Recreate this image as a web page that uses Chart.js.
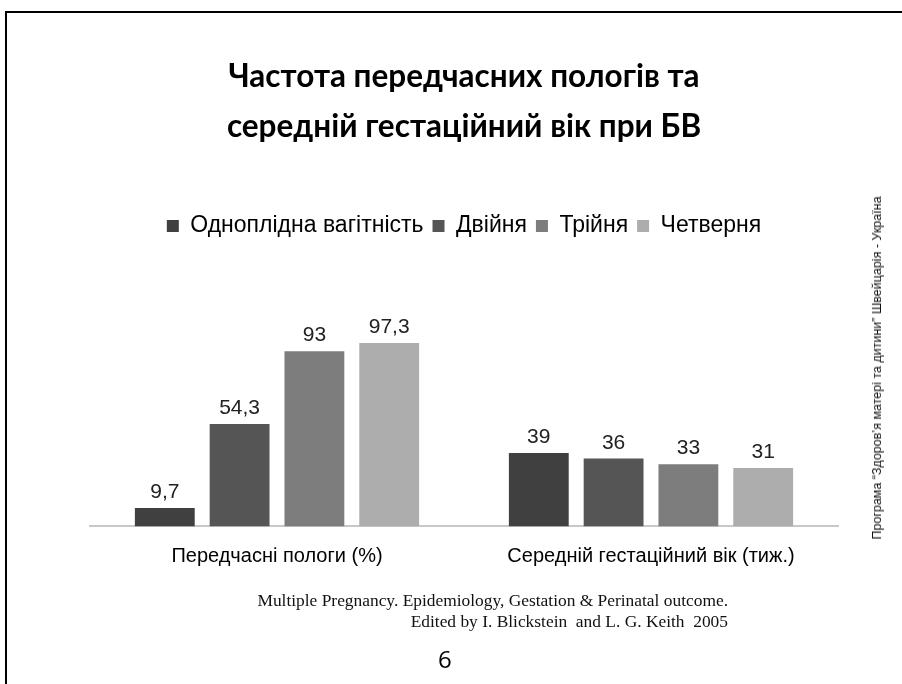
<!DOCTYPE html>
<html>
<head>
<meta charset="utf-8">
<script src="https://cdn.jsdelivr.net/npm/chart.js@4.4.0/dist/chart.umd.min.js"></script>
<style>
  body { margin: 0; background: #fff; }
  #page { position: relative; width: 902px; height: 684px; overflow: hidden; background: #fff; }
  #frame { position: absolute; left: 5px; top: 11px; width: 1000px; height: 1000px;
           border-left: 2px solid #000; border-top: 2px solid #000; }
  #source { position: absolute; right: 174px; top: 590px; text-align: right;
            font-family: "Liberation Serif", serif; font-size: 17.4px; line-height: 21px; color: #111; }
  #pagenum { position: absolute; left: 438px; top: 642px; font-family: "Open Sans", sans-serif;
             font-size: 24px; color: #000; }
  #side { position: absolute; left: 877px; top: 368px; white-space: nowrap;
          transform: translate(-50%, -50%) rotate(-90deg);
          font-family: "Liberation Sans Narrow", "Liberation Sans", sans-serif; font-size: 12.5px; color: #111; }
  #chart { position: absolute; left: 0; top: 0; }
</style>
</head>
<body>
<div id="page">
  <div id="frame"></div>
  <canvas id="chart" width="902" height="684"></canvas>
  <div id="source">Multiple Pregnancy. Epidemiology, Gestation &amp; Perinatal outcome.<br>Edited by I. Blickstein&nbsp; and L. G. Keith&nbsp; 2005</div>
  <div id="pagenum">6</div>
  <div id="side">Програма “Здоров’я матері та дитини” Швейцарія - Україна</div>
</div>
<script>
// categories on the x axis
var categories = ['Передчасні пологи (%)', 'Середній гестаційний вік (тиж.)'];
var seriesNames = ['Одноплідна вагітність', 'Двійня', 'Трійня', 'Четверня'];

// values per series: [preterm %, mean gestational age weeks]
var singleton = [9.7, 39];
var twins = [54.3, 36];
var triplets = [93, 33];
var quadruplets = [97.3, 31];

var barColors = ['#404040', '#555555', '#7d7d7d', '#adadad'];

var titleLines = ['Частота передчасних пологів та', 'середній гестаційний вік при БВ'];

var seriesValues = [singleton, twins, triplets, quadruplets];

// draws the number above each bar, with a comma as decimal mark
var valueLabels = {
  id: 'valueLabels',
  afterDatasetsDraw: function(chart) {
    var ctx = chart.ctx;
    ctx.save();
    ctx.font = '21px "Liberation Sans", Arial, sans-serif';
    ctx.fillStyle = '#222';
    ctx.textAlign = 'center';
    ctx.textBaseline = 'alphabetic';
    chart.data.datasets.forEach(function(ds, i) {
      chart.getDatasetMeta(i).data.forEach(function(bar, j) {
        var txt = String(ds.data[j]).replace('.', ',');
        ctx.fillText(txt, bar.x, bar.y - 10);
      });
    });
    ctx.restore();
  }
};

var ctx = document.getElementById('chart').getContext('2d');
var myChart = new Chart(ctx, {
  type: 'bar',
  data: {
    labels: categories,
    datasets: seriesNames.map(function(name, i) {
      return {
        label: name,
        data: seriesValues[i],
        backgroundColor: barColors[i],
        borderWidth: 0,
        categoryPercentage: 0.8,
        barPercentage: 0.8
      };
    })
  },
  options: {
    responsive: false,
    animation: false,
    devicePixelRatio: 1,
    layout: { padding: { left: 90, right: 64, top: 0, bottom: 97.6 } },
    scales: {
      x: {
        grid: { display: false, drawTicks: false },
        border: { display: true, color: '#c8c8c8', width: 2 },
        ticks: { color: '#000', padding: 18, font: { family: '"Liberation Sans", Arial', size: 20 } }
      },
      y: { display: false, min: 0, max: 148 }
    },
    plugins: {
      title: {
        display: true,
        text: titleLines,
        color: '#000',
        font: { family: 'Lato, "Open Sans", sans-serif', size: 31.5, weight: 'bold', lineHeight: 50 / 31.5 },
        padding: { top: 52, bottom: 53.5 }
      },
      legend: {
        position: 'top',
        labels: {
          color: '#000',
          boxWidth: 12,
          boxHeight: 12,
          padding: 9,
          font: { family: '"Liberation Sans", Arial', size: 23 }
        }
      },
      tooltip: { enabled: false }
    }
  },
  plugins: [valueLabels]
});
</script>
</body>
</html>
